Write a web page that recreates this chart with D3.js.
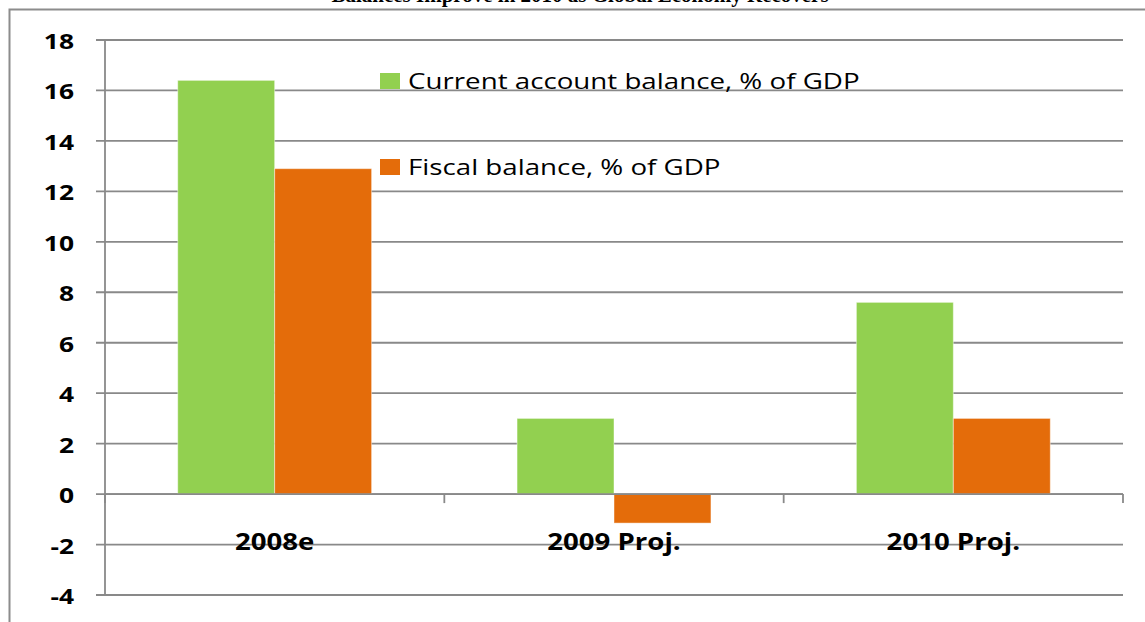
<!DOCTYPE html>
<html>
<head>
<meta charset="utf-8">
<script src="https://cdn.jsdelivr.net/npm/d3@7"></script>
<style>
  html, body { margin: 0; padding: 0; background: #ffffff; overflow: hidden; }
  svg { display: block; }
</style>
</head>
<body>
<svg id="chart" width="1145" height="622"></svg>
<script>
// ---- data ----
const title = "Balances Improve in 2010 as Global Economy Recovers";
const categories = ["2008e", "2009 Proj.", "2010 Proj."];
const seriesNames = ["Current account balance, % of GDP", "Fiscal balance, % of GDP"];
const currentAccount = [16.4, 3.0, 7.6];
const fiscalBalance = [12.9, -1.15, 3.0];
const yTicks = [-4, -2, 0, 2, 4, 6, 8, 10, 12, 14, 16, 18];
const colors = ["#92D050", "#E46C0A"];

const series = [currentAccount, fiscalBalance];

const svg = d3.select("#chart");
const W = 1145, H = 622;
const plot = { left: 105, right: 1123, top: 40, bottom: 595 };
const gridColor = "#898989";
const sx = 1.2; // horizontal stretch of the original text

// outer frame
svg.append("path")
  .attr("d", `M9.5,${H} L9.5,9.5 L${W},9.5`)
  .attr("fill", "none").attr("stroke", "#8c8c8c").attr("stroke-width", 2);

// title (clipped at top, as in the original)
svg.append("text")
  .attr("x", 580).attr("y", 1.5)
  .attr("text-anchor", "middle")
  .attr("font-family", "Liberation Serif, Times New Roman, serif")
  .attr("font-weight", "bold").attr("font-size", 21)
  .attr("fill", "#000")
  .text(title);

const y = d3.scaleLinear().domain([-4, 18]).range([plot.bottom, plot.top]);
const x0 = d3.scaleBand().domain(categories).range([plot.left, plot.right]).padding(0);
const barW = x0.bandwidth() / 3.5;
const x1 = d3.scaleBand().domain(d3.range(series.length)).range([0, barW * series.length]).padding(0);
const groupOffset = (x0.bandwidth() - barW * series.length) / 2;

// gridlines + y ticks
svg.append("g").selectAll("line").data(yTicks).join("line")
  .attr("x1", plot.left - 9).attr("x2", plot.right)
  .attr("y1", d => y(d)).attr("y2", d => y(d))
  .attr("stroke", gridColor).attr("stroke-width", 1.8);

// y axis line
svg.append("line")
  .attr("x1", plot.left).attr("x2", plot.left)
  .attr("y1", y(18)).attr("y2", y(-4))
  .attr("stroke", gridColor).attr("stroke-width", 1.8);

// y labels
const yl = svg.append("g").selectAll("g").data(yTicks).join("g")
  .attr("transform", d => `translate(74,${y(d) + 9}) scale(${sx},1)`);
yl.append("text")
  .attr("text-anchor", "end")
  .attr("font-family", "Open Sans, DejaVu Sans, sans-serif")
  .attr("font-weight", "bold").attr("font-size", 22)
  .attr("fill", "#000")
  .text(d => d);

// bars
const groups = svg.append("g").selectAll("g").data(categories).join("g")
  .attr("transform", d => `translate(${x0(d) + groupOffset},0)`);
groups.selectAll("rect")
  .data((d, i) => series.map((s, k) => ({ k, v: s[i] })))
  .join("rect")
  .attr("x", d => x1(d.k))
  .attr("width", x1.bandwidth())
  .attr("y", d => y(Math.max(0, d.v)))
  .attr("height", d => Math.abs(y(d.v) - y(0)))
  .attr("fill", d => colors[d.k])
  .attr("stroke", "#ffffff").attr("stroke-opacity", 0.45).attr("stroke-width", 1);

// zero axis line with category ticks
svg.append("line")
  .attr("x1", plot.left).attr("x2", plot.right)
  .attr("y1", y(0)).attr("y2", y(0))
  .attr("stroke", gridColor).attr("stroke-width", 1.8);
const catEdges = categories.map(c => x0(c)).concat([plot.right]);
svg.append("g").selectAll("line").data(catEdges).join("line")
  .attr("x1", d => d).attr("x2", d => d)
  .attr("y1", y(0)).attr("y2", y(0) + 9)
  .attr("stroke", gridColor).attr("stroke-width", 1.8);

// category labels
const cl = svg.append("g").selectAll("g").data(categories).join("g")
  .attr("transform", d => `translate(${x0(d) + x0.bandwidth() / 2},550) scale(${sx},1)`);
cl.append("text")
  .attr("text-anchor", "middle")
  .attr("font-family", "Open Sans, DejaVu Sans, sans-serif")
  .attr("font-weight", "bold").attr("font-size", 23)
  .attr("fill", "#000")
  .text(d => d);

// legend
const legendY = [73, 159];
const lg = svg.append("g").selectAll("g").data(seriesNames).join("g")
  .attr("transform", (d, i) => `translate(380,${legendY[i]})`);
lg.append("rect")
  .attr("width", 20).attr("height", 16)
  .attr("fill", (d, i) => colors[i]);
lg.append("g")
  .attr("transform", `translate(28,16) scale(1.26,1)`)
  .append("text")
  .attr("font-family", "Open Sans, DejaVu Sans, sans-serif")
  .attr("font-size", 22)
  .attr("fill", "#000")
  .text(d => d);
</script>
</body>
</html>
